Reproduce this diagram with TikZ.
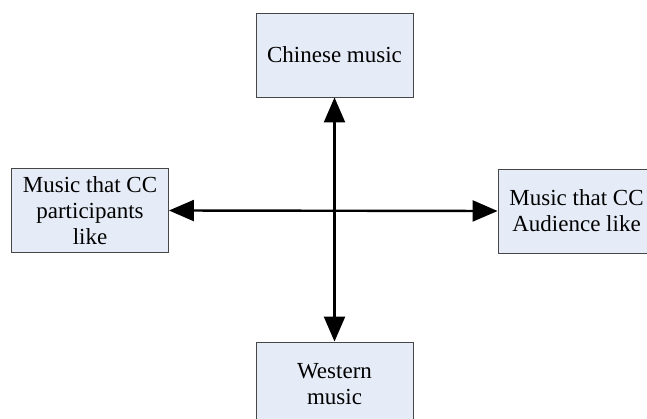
\documentclass[tikz,border=0pt]{standalone}
\usepackage{fontspec}
\setmainfont{Liberation Serif}
\usetikzlibrary{arrows.meta}
\definecolor{boxfill}{RGB}{230,236,247}
\definecolor{boxline}{RGB}{70,70,70}
\tikzset{
  musicbox/.style={draw=boxline, fill=boxfill, line width=0.9pt,
    minimum width=157pt, minimum height=84pt, inner sep=0pt,
    align=center, font=\fontsize{23}{26}\selectfont},
  axis/.style={line width=2.4pt, {Triangle[length=25pt,width=21pt]}-{Triangle[length=25pt,width=21pt]}}
}
\begin{document}
\begin{tikzpicture}[x=1pt,y=-1pt]
  \useasboundingbox (0,0) rectangle (647,419);
  \clip (0,0) rectangle (647,419);
  \node[musicbox] (chinese) at (334.5,55) {Chinese music};
  \node[musicbox] (western) at (334.5,384) {Western\\music};
  \node[musicbox] (participants) at (90,210.5) {Music that CC\\participants\\like};
  \node[musicbox] (audience) at (576.5,211) {Music that CC\\Audience like};
  \draw[axis] (chinese.south) -- (western.north);
  \draw[axis] (participants.east) -- (audience.west);
\end{tikzpicture}
\end{document}
